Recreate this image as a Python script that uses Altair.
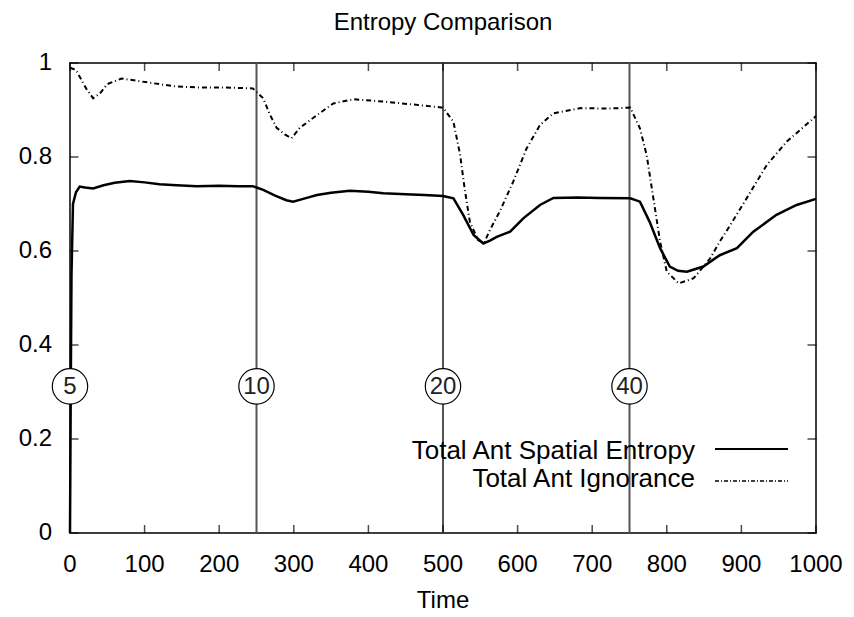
import altair as alt
import pandas as pd

# ---- data ----
ent_t = [0, 1, 2, 4, 8, 13, 20, 31, 45, 60, 80, 100, 120, 143, 170, 200, 225, 245,
         259, 275, 290, 299, 315, 331, 350, 375, 400, 420, 450, 475, 500,
         514, 527, 541, 554, 563, 572, 590, 608, 630, 648, 680, 710, 751,
         764, 777, 791, 804, 815, 827, 849, 871, 894, 916, 947, 974, 1000]
ent_v = [0.0, 0.30, 0.55, 0.70, 0.725, 0.737, 0.735, 0.733, 0.740, 0.745, 0.749, 0.746, 0.742, 0.740, 0.738, 0.739, 0.738, 0.738,
         0.730, 0.718, 0.708, 0.705, 0.712, 0.719, 0.724, 0.728, 0.726, 0.723, 0.721, 0.719, 0.717,
         0.712, 0.677, 0.634, 0.616, 0.622, 0.630, 0.641, 0.670, 0.698, 0.713, 0.714, 0.713, 0.712,
         0.705, 0.662, 0.606, 0.567, 0.558, 0.556, 0.567, 0.591, 0.606, 0.641, 0.677, 0.698, 0.711]

ign_t = [0, 8, 15, 22, 31, 40, 50, 69, 90, 120, 143, 170, 200, 225, 245,
         259, 268, 277, 288, 297, 308, 331, 353, 380, 420, 464, 500,
         514, 523, 529, 536, 547, 555, 563, 576, 594, 612, 630, 648, 684, 720, 751,
         764, 773, 782, 791, 800, 816, 836, 858, 871, 885, 907, 934, 961, 1000]
ign_v = [0.99, 0.985, 0.965, 0.945, 0.925, 0.935, 0.955, 0.967, 0.962, 0.955, 0.950, 0.948, 0.948, 0.947, 0.946,
         0.925, 0.890, 0.862, 0.848, 0.840, 0.862, 0.889, 0.914, 0.923, 0.918, 0.911, 0.905,
         0.875, 0.804, 0.733, 0.662, 0.623, 0.617, 0.645, 0.684, 0.747, 0.818, 0.868, 0.893, 0.904, 0.903, 0.905,
         0.861, 0.804, 0.712, 0.620, 0.556, 0.531, 0.542, 0.584, 0.620, 0.655, 0.712, 0.783, 0.833, 0.887]

marker_t = [0, 250, 500, 750]
marker_label = ["5", "10", "20", "40"]
marker_level = [0.312, 0.312, 0.312, 0.312]
rule_t = [250, 500, 750]
x_ticks = list(range(0, 1001, 100))
y_ticks = [0, 0.2, 0.4, 0.6, 0.8, 1.0]
x_title = ["Time"]
legend_labels = ["Total Ant Spatial Entropy", "Total Ant Ignorance"]

FONT = "Liberation Sans"

ent = pd.DataFrame({"t": ent_t, "v": ent_v})
ign = pd.DataFrame({"t": ign_t, "v": ign_v})
markers = pd.DataFrame({"t": marker_t, "v": marker_level, "label": marker_label})
rules = pd.DataFrame({"t": rule_t})
xt = pd.DataFrame({"tick_x": x_ticks})
yt = pd.DataFrame({"tick_y": y_ticks})
xtitle = pd.DataFrame({"label": x_title})
leg1 = pd.DataFrame({"label": [legend_labels[0]]})
leg2 = pd.DataFrame({"label": [legend_labels[1]]})

xs = alt.Scale(domain=[0, 1000], nice=False, zero=False)
ys = alt.Scale(domain=[0, 1], nice=False, zero=False)

X = alt.X("t:Q", scale=xs, axis=None)
Y = alt.Y("v:Q", scale=ys, axis=None)
TX = alt.X("tick_x:Q", scale=xs, axis=None)
TY = alt.Y("tick_y:Q", scale=ys, axis=None)

rule_layer = alt.Chart(rules).mark_rule(color="#555555", strokeWidth=2).encode(x=X)

ent_layer = alt.Chart(ent).mark_line(color="black", strokeWidth=2.5).encode(x=X, y=Y)

ign_layer = alt.Chart(ign).mark_line(color="black", strokeWidth=2, strokeDash=[5, 3, 1, 3]).encode(x=X, y=Y)

# inward tick marks on all four sides
tick_bottom = alt.Chart(xt).mark_tick(orient="vertical", size=8, thickness=1.5, color="black").encode(
    x=TX, y=alt.value(466))
tick_top = alt.Chart(xt).mark_tick(orient="vertical", size=8, thickness=1.5, color="black").encode(
    x=TX, y=alt.value(4))
tick_left = alt.Chart(yt).mark_tick(orient="horizontal", size=9, thickness=1.5, color="black").encode(
    y=TY, x=alt.value(4))
tick_right = alt.Chart(yt).mark_tick(orient="horizontal", size=9, thickness=1.5, color="black").encode(
    y=TY, x=alt.value(742))

# tick labels and axis title, placed through the scales
x_labels = alt.Chart(xt).mark_text(
    font=FONT, fontSize=24, color="black", align="center", baseline="top"
).encode(x=TX, y=alt.value(490), text=alt.Text("tick_x:Q", format="d"))
y_labels = alt.Chart(yt).mark_text(
    font=FONT, fontSize=24, color="black", align="right", baseline="middle"
).encode(y=TY, x=alt.value(-18), text=alt.Text("tick_y:Q", format="~g"))
x_title_layer = alt.Chart(xtitle).mark_text(
    font=FONT, fontSize=24, color="black", align="center", baseline="top"
).encode(x=alt.value(373), y=alt.value(526), text="label:N")

circle_layer = alt.Chart(markers).mark_circle(
    size=1250, fill="white", stroke="black", strokeWidth=1.2, opacity=1
).encode(x=X, y=Y)

circle_text = alt.Chart(markers).mark_text(
    font=FONT, fontSize=24, color="#222222", baseline="middle", align="center", dy=1
).encode(x=X, y=Y, text="label:N")

leg_text1 = alt.Chart(leg1).mark_text(
    font=FONT, fontSize=26, color="black", align="right", baseline="alphabetic"
).encode(x=alt.value(625), y=alt.value(396), text="label:N")
leg_text2 = alt.Chart(leg2).mark_text(
    font=FONT, fontSize=26, color="black", align="right", baseline="alphabetic"
).encode(x=alt.value(625), y=alt.value(424), text="label:N")
leg_rule1 = alt.Chart(leg1).mark_rule(color="black", strokeWidth=2).encode(
    x=alt.value(645), x2=alt.value(718), y=alt.value(386))
leg_rule2 = alt.Chart(leg2).mark_rule(color="black", strokeWidth=1.5, strokeDash=[4, 2, 1, 2]).encode(
    x=alt.value(645), x2=alt.value(718), y=alt.value(418))

chart = alt.layer(
    rule_layer, ign_layer, ent_layer,
    tick_bottom, tick_top, tick_left, tick_right,
    circle_layer, circle_text,
    x_labels, y_labels, x_title_layer,
    leg_text1, leg_text2, leg_rule1, leg_rule2,
).properties(
    width=746, height=470,
    title=alt.TitleParams("Entropy Comparison", fontSize=24, font=FONT,
                          fontWeight="normal", offset=16, color="black"),
    padding={"left": 62, "top": 55, "right": 30, "bottom": 84},
    autosize="none",
    background="white",
).configure_view(stroke="black", strokeWidth=1.5)

chart.save("out.html", embed_options={"renderer": "svg", "actions": False})
